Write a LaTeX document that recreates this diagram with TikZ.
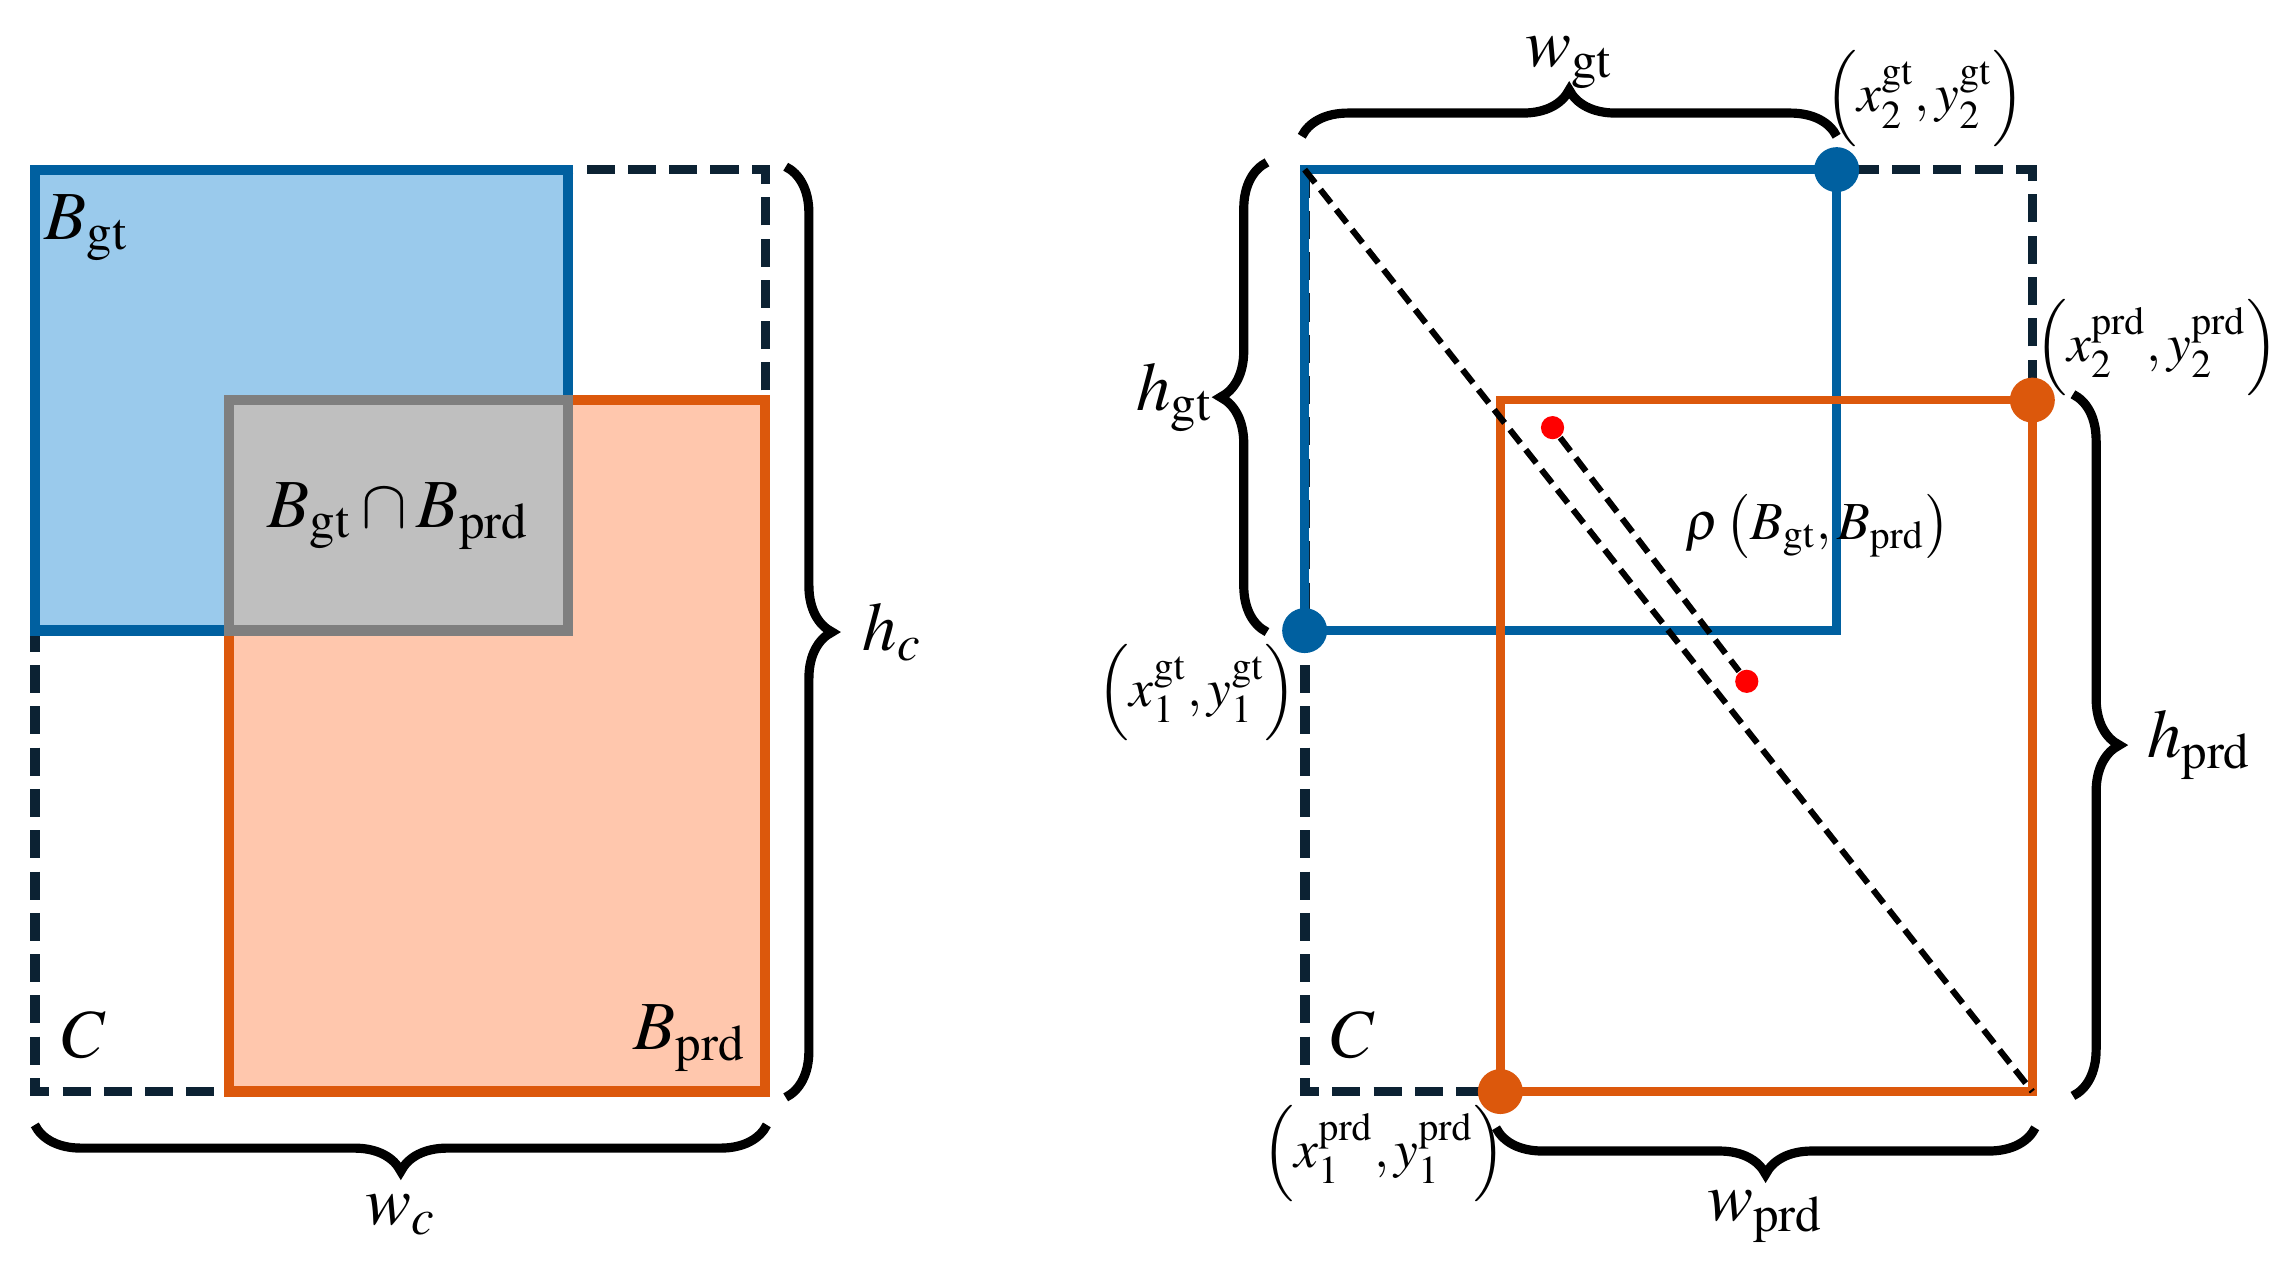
\documentclass[tikz,border=0pt]{standalone}
\usepackage{mathptmx}
\usepackage{tikz}
\usetikzlibrary{decorations.pathreplacing, positioning}

\definecolor{gtBlue}{HTML}{0060A0}
\definecolor{gtFill}{HTML}{9ACAEC}
\definecolor{prdOrange}{HTML}{DC580C}
\definecolor{prdFill}{HTML}{FFC7AD}
\definecolor{capGray}{HTML}{7F7F7F}
\definecolor{capFill}{HTML}{BFBFBF}
\definecolor{hullDark}{HTML}{0C2233}

\begin{document}
\begin{tikzpicture}[x=0.01cm, y=-0.01cm,
  gtbox/.style={draw=gtBlue, line width=2pt},
  prdbox/.style={draw=prdOrange, line width=2pt},
  capbox/.style={draw=capGray, fill=capFill, line width=2pt},
  hull/.style={draw=hullDark, line width=1.9pt, dash pattern=on 5.5pt off 2.6pt},
  diag/.style={draw=black, line width=1.2pt, dash pattern=on 3.3pt off 1.7pt},
  brc/.style={decorate, decoration={brace, amplitude=0.32cm}, line width=1.8pt},
  lbl/.style={font=\fontsize{13.5}{16}\selectfont, inner sep=0pt},
  crd/.style={font=\fontsize{10.5}{13}\selectfont, inner sep=0pt},
  gtdot/.style={circle, fill=gtBlue, minimum size=0.31cm, inner sep=0pt},
  prddot/.style={circle, fill=prdOrange, minimum size=0.31cm, inner sep=0pt},
  cdot/.style={circle, fill=red, minimum size=0.16cm, inner sep=0pt}
]
  \useasboundingbox (0,0) rectangle (1568,881);

  % left panel
  \coordinate (lcTL) at (24,117);
  \coordinate (lcBR) at (528,753);
  \coordinate (lgBR) at (392,435);
  \coordinate (lpTL) at (158,276);

  \draw[hull] (lcTL) rectangle (lcBR);
  \draw[prdbox, fill=prdFill] (lpTL) rectangle (lcBR);
  \draw[gtbox, fill=gtFill] (lcTL) rectangle (lgBR);
  \draw[capbox] (lpTL) rectangle (lgBR);

  \node[lbl] (bgt) at (60,157) {$B_{\mathrm{gt}}$};
  \node[lbl] (inter) at (275,356) {$B_{\mathrm{gt}}\cap B_{\mathrm{prd}}$};
  \node[lbl] (cl) at (58,714) {$C$};
  \node[lbl] (bprd) at (476,716) {$B_{\mathrm{prd}}$};

  \coordinate (hcA) at (542,115);
  \coordinate (hcB) at (542,757);
  \coordinate (wcA) at (529,776);
  \coordinate (wcB) at (24,776);
  \draw[brc] (hcA) -- (hcB) node[lbl, midway, right=0.5cm] (hc) {$h_c$};
  \draw[brc] (wcA) -- (wcB) node[lbl, midway, below=0.45cm] (wc) {$w_c$};

  % right panel
  \coordinate (rcTL) at (900,117);
  \coordinate (rcBR) at (1402,753);
  \coordinate (rgBR) at (1267,435);
  \coordinate (rpTL) at (1035,276);

  \draw[hull] (rcTL) rectangle (rcBR);
  \draw[gtbox, line width=1.7pt] (rcTL) rectangle (rgBR);
  \draw[prdbox, line width=1.7pt] (rpTL) rectangle (rcBR);
  \draw[diag] (rcTL) -- (rcBR);

  \node[cdot] (cgt) at (1071,295) {};
  \node[cdot] (cprd) at (1205,470) {};
  \draw[diag] (cgt) -- (cprd);

  \node[gtdot] (gt1) at (rcTL |- rgBR) {};
  \node[gtdot] (gt2) at (rgBR |- rcTL) {};
  \node[prddot] (prd1) at (rpTL |- rcBR) {};
  \node[prddot] (prd2) at (rcBR |- rpTL) {};

  \node[crd] (gt2l) at (1328,68) {$\left(x_2^{\mathrm{gt}},y_2^{\mathrm{gt}}\right)$};
  \node[crd] (prd2l) at (1488,240) {$\left(x_2^{\mathrm{prd}},y_2^{\mathrm{prd}}\right)$};
  \node[crd] (gt1l) at (826,478) {$\left(x_1^{\mathrm{gt}},y_1^{\mathrm{gt}}\right)$};
  \node[crd] (prd1l) at (955,796) {$\left(x_1^{\mathrm{prd}},y_1^{\mathrm{prd}}\right)$};
  \node[crd] (rho) at (1254,363) {$\rho\left(B_{\mathrm{gt}},B_{\mathrm{prd}}\right)$};
  \node[lbl] (cr) at (933,714) {$C$};

  \coordinate (wgtA) at (898,94);
  \coordinate (wgtB) at (1267,94);
  \coordinate (hgtA) at (874,436);
  \coordinate (hgtB) at (874,112);
  \coordinate (hprdA) at (1430,272);
  \coordinate (hprdB) at (1430,756);
  \coordinate (wprdA) at (1404,778);
  \coordinate (wprdB) at (1032,778);
  \draw[brc] (wgtA) -- (wgtB) node[lbl, midway, above=0.3cm] (wgt) {$w_{\mathrm{gt}}$};
  \draw[brc] (hgtA) -- (hgtB) node[lbl, midway, left=0.34cm] (hgt) {$h_{\mathrm{gt}}$};
  \draw[brc] (hprdA) -- (hprdB) node[lbl, midway, right=0.48cm] (hprd) {$h_{\mathrm{prd}}$};
  \draw[brc] (wprdA) -- (wprdB) node[lbl, midway, below=0.4cm] (wprd) {$w_{\mathrm{prd}}$};
\end{tikzpicture}
\end{document}
